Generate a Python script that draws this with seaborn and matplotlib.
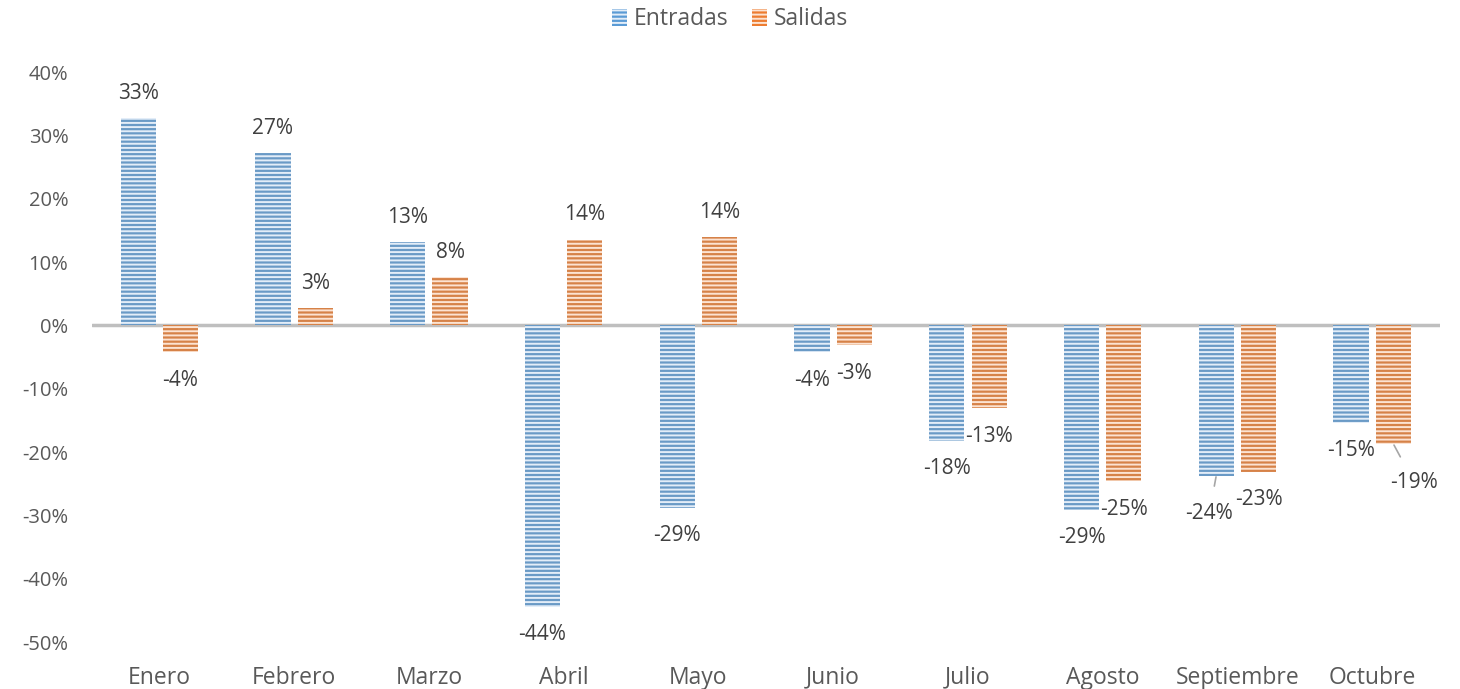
import pandas as pd
import numpy as np
import matplotlib.pyplot as plt
import seaborn as sns
from matplotlib.patches import Patch
from matplotlib.ticker import PercentFormatter

# Datos
meses = ['Enero', 'Febrero', 'Marzo', 'Abril', 'Mayo', 'Junio', 'Julio',
         'Agosto', 'Septiembre', 'Octubre']
entradas = [32.7, 27.2, 13.1, -44.4, -28.8, -4.2, -18.2, -29.1, -23.7, -15.4]
salidas = [-4.2, 2.7, 7.6, 13.5, 13.9, -3.1, -13.1, -24.6, -23.1, -18.7]
series = ['Entradas', 'Salidas']

df = pd.DataFrame({
    'Mes': meses * 2,
    'Valor': entradas + salidas,
    'Serie': ['Entradas'] * len(meses) + ['Salidas'] * len(meses),
})

colores = {'Entradas': '#5b9bd5', 'Salidas': '#ed7d31'}
rayas = {'Entradas': '#e3edf8', 'Salidas': '#fce3d2'}
texto = '#404040'
# etiquetas que Excel desplaza con linea guia (pixeles)
desplazadas = {('Entradas', 'Septiembre'): (-7, -38),
               ('Salidas', 'Octubre'): (21, -39)}

sns.set_style('white')
plt.rcParams['font.family'] = ['Open Sans', 'DejaVu Sans']
plt.rcParams['hatch.linewidth'] = 1.4
plt.rcParams['axes.unicode_minus'] = False

fig = plt.figure(figsize=(14.6, 6.89), dpi=100)
ax = fig.add_axes([0.063, 0.068, 0.923, 0.8275])

sns.barplot(data=df, x='Mes', y='Valor', hue='Serie', palette=colores,
            width=0.628, gap=0.17, ax=ax, legend=False)

for serie, cont in zip(series, ax.containers):
    for bar in cont:
        bar.set_hatch('----')
        bar.set_edgecolor(rayas[serie])
        bar.set_linewidth(0)
    for mes, bar in zip(meses, cont):
        val = df[(df.Serie == serie) & (df.Mes == mes)].Valor.iloc[0]
        xc = bar.get_x() + bar.get_width() / 2
        if (serie, mes) in desplazadas:
            dx, dy = desplazadas[(serie, mes)]
            ax.annotate(f'{round(val):.0f}%', xy=(xc, val), xytext=(dx, dy),
                        textcoords='offset pixels', ha='center', va='center',
                        fontsize=15, color=texto,
                        arrowprops=dict(arrowstyle='-', color='#a6a6a6', lw=1.2,
                                        shrinkA=10, shrinkB=1))
        else:
            dy = 25 if val >= 0 else -28
            ax.annotate(f'{round(val):.0f}%', xy=(xc, val), xytext=(0, dy),
                        textcoords='offset pixels', ha='center', va='center',
                        fontsize=15, color=texto)

ax.axhline(0, color='#bfbfbf', lw=2.5, zorder=0.5)
ax.set_ylim(-50, 40)
ax.set_xlim(-0.5, len(meses) - 0.5)
ax.set_yticks(np.arange(-50, 41, 10))
ax.yaxis.set_major_formatter(PercentFormatter(decimals=0))
ax.set_xlabel('')
ax.set_ylabel('')
ax.tick_params(axis='both', length=0, labelsize=14.5, labelcolor='#595959')
ax.tick_params(axis='x', labelsize=16.5, pad=17)
ax.tick_params(axis='y', pad=17)
sns.despine(ax=ax, left=True, bottom=True)

handles = [Patch(facecolor=colores[s], edgecolor=rayas[s], hatch='----', lw=0, label=s)
           for s in series]
fig.legend(handles=handles, loc='center', bbox_to_anchor=(0.5, 0.972), ncol=2,
           frameon=False, fontsize=16.5, labelcolor='#595959', handlelength=0.65,
           handleheight=0.75, handletextpad=0.3, columnspacing=1.0)

plt.savefig('out.png', dpi=100)
plt.close()
